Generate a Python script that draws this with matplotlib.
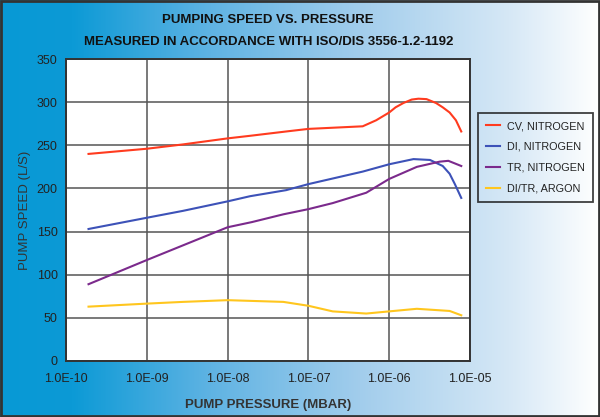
import numpy as np
import matplotlib
matplotlib.use("Agg")
import matplotlib.pyplot as plt
from matplotlib.colors import LinearSegmentedColormap
from matplotlib.patches import Rectangle

plt.rcParams['font.family'] = ['Liberation Sans', 'DejaVu Sans']

# Daten
cv_p = [1.9e-10, 1e-9, 2.8e-9, 1e-8, 1.9e-8, 5.3e-8, 1e-7, 4.7e-7, 6.9e-7, 1e-6,
        1.2e-6, 1.5e-6, 1.9e-6, 2.3e-6, 2.9e-6, 3.8e-6, 4.6e-6, 5.6e-6, 6.7e-6, 7.8e-6]
cv_s = [240, 246, 251, 258, 261, 266, 269, 272, 279, 288,
        294, 299, 303, 304, 303.5, 299, 294, 288, 279, 266]

di_p = [1.9e-10, 1e-9, 2.8e-9, 1e-8, 1.9e-8, 5.3e-8, 1e-7, 4.7e-7, 1e-6,
        2e-6, 3.2e-6, 4.6e-6, 5.6e-6, 6.5e-6, 7.8e-6]
di_s = [153, 166, 174, 185, 191, 198, 205, 219.5, 228,
        234, 233, 226, 217, 205, 189]

tr_p = [1.9e-10, 1e-9, 2.8e-9, 1e-8, 2e-8, 4.9e-8, 1e-7, 2e-7, 5.2e-7, 1e-6,
        2.2e-6, 4.2e-6, 5.4e-6, 7.8e-6]
tr_s = [89, 117, 134, 155, 161, 170, 176, 183, 195, 211,
        225, 231, 232, 226]

ar_p = [1.9e-10, 1e-9, 2.8e-9, 1e-8, 4.9e-8, 1e-7, 2e-7, 5.2e-7, 1e-6, 2.2e-6, 5.6e-6, 7.8e-6]
ar_s = [63, 66.5, 68.5, 70.5, 68.5, 64, 57.5, 55, 57.5, 60.5, 58, 53]

series = [
    (cv_p, cv_s, '#ff3b1f', 'CV, NITROGEN'),
    (di_p, di_s, '#3d52b8', 'DI, NITROGEN'),
    (tr_p, tr_s, '#7b2a8c', 'TR, NITROGEN'),
    (ar_p, ar_s, '#ffc61e', 'DI/TR, ARGON'),
]
x_ticks = [1e-10, 1e-9, 1e-8, 1e-7, 1e-6, 1e-5]
x_labels = ['1.0E-10', '1.0E-09', '1.0E-08', '1.0E-07', '1.0E-06', '1.0E-05']
y_ticks = [0, 50, 100, 150, 200, 250, 300, 350]

fig = plt.figure(figsize=(6, 4.17), dpi=100)

# Hintergrund mit Farbverlauf
bg = fig.add_axes([0, 0, 1, 1], zorder=-1)
cmap = LinearSegmentedColormap.from_list('bg', [
    (0.0, '#0899d5'), (0.12, '#0c9ad6'), (0.35, '#5fb3e3'),
    (0.6, '#a2cdec'), (0.85, '#d6e8f6'), (1.0, '#ffffff')])
bg.imshow(np.linspace(0, 1, 256)[None, :], aspect='auto', cmap=cmap,
          extent=[0, 1, 0, 1])
bg.set_axis_off()
fig.patches.append(Rectangle((0.002, 0.003), 0.996, 0.994, transform=fig.transFigure,
                             fill=False, edgecolor='#333333', linewidth=2))

ax = fig.add_axes([0.11, 0.1343, 0.6733, 0.7242])
ax.set_facecolor('white')
for p, s, c, lab in series:
    ax.plot(p, s, color=c, linewidth=1.5, label=lab)

ax.set_xscale('log')
ax.set_xlim(1e-10, 1e-5)
ax.set_ylim(0, 350)
ax.set_xticks(x_ticks)
ax.set_xticklabels(x_labels)
ax.minorticks_off()
ax.set_yticks(y_ticks)
ax.tick_params(length=0, labelsize=9, colors='#222222', pad=6)
ax.tick_params(axis='x', pad=9)
ax.grid(True, color='#555555', linewidth=1.1)
for sp in ax.spines.values():
    sp.set_color('#333333')
    sp.set_linewidth(1.4)

ax.set_xlabel('PUMP PRESSURE (MBAR)', fontsize=9.5, fontweight='bold', color='#333333', labelpad=10)
ax.set_ylabel('PUMP SPEED (L/S)', fontsize=9.5, color='#333333', labelpad=4)

fig.text(0.447, 0.953, 'PUMPING SPEED VS. PRESSURE', ha='center', va='center',
         fontsize=9.5, fontweight='bold', color='#111111')
fig.text(0.447, 0.899, 'MEASURED IN ACCORDANCE WITH ISO/DIS 3556-1.2-1192', ha='center',
         va='center', fontsize=9.5, fontweight='bold', color='#111111')

leg = ax.legend(loc='upper left', bbox_to_anchor=(0.797, 0.729),
                bbox_transform=fig.transFigure, fontsize=7.8, frameon=True,
                fancybox=False, handlelength=1.3, borderaxespad=0,
                labelspacing=1.0, handletextpad=0.65, borderpad=0.75)
leg.get_frame().set_edgecolor('#111111')
leg.get_frame().set_facecolor('none')
leg.get_frame().set_linewidth(1.3)
for t in leg.get_texts():
    t.set_color('#222222')

fig.savefig('out.png', dpi=100)
